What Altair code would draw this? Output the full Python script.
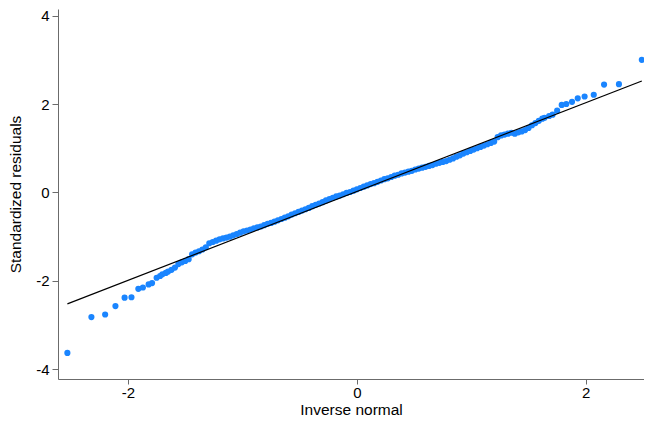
import altair as alt
import pandas as pd

# Inverse-normal quantiles (x) and sorted standardized residuals (y)
qx = [-2.53, -2.32, -2.20, -2.11, -2.03, -1.97, -1.91, -1.87, -1.82, -1.79, -1.75, -1.72, -1.70, -1.67, -1.65, -1.62, -1.59,
      -1.56, -1.53, -1.50, -1.47, -1.44, -1.41, -1.38, -1.35, -1.32, -1.29, -1.26, -1.23, -1.20, -1.17, -1.14, -1.11,
      -1.08, -1.05, -1.02, -0.99, -0.96, -0.93, -0.90, -0.87, -0.84, -0.81, -0.78, -0.75, -0.72, -0.69, -0.66, -0.63,
      -0.60, -0.57, -0.54, -0.51, -0.48, -0.45, -0.42, -0.39, -0.36, -0.33, -0.30, -0.27, -0.24, -0.21, -0.18, -0.15,
      -0.12, -0.09, -0.06, -0.03, 0.00, 0.03, 0.06, 0.09, 0.12, 0.15, 0.18, 0.21, 0.24, 0.27, 0.30, 0.33, 0.36, 0.39,
      0.42, 0.45, 0.48, 0.51, 0.54, 0.57, 0.60, 0.63, 0.66, 0.69, 0.72, 0.75, 0.78, 0.81, 0.84, 0.87, 0.90, 0.93, 0.96,
      0.99, 1.02, 1.05, 1.08, 1.11, 1.14, 1.17, 1.20, 1.23, 1.26, 1.29, 1.32, 1.35, 1.38, 1.41, 1.44, 1.47, 1.50, 1.53,
      1.56, 1.59, 1.62, 1.64, 1.68, 1.71, 1.75, 1.79, 1.83, 1.88, 1.93, 1.99, 2.07, 2.16, 2.29, 2.49]
resid = [-3.63, -2.82, -2.76, -2.57, -2.38, -2.37, -2.18, -2.15, -2.08, -2.05, -1.93, -1.89, -1.85, -1.82, -1.79, -1.75, -1.70,
         -1.62, -1.58, -1.55, -1.51, -1.40, -1.36, -1.33, -1.29, -1.24, -1.15, -1.12, -1.09, -1.06, -1.04, -1.02, -1.00,
         -0.97, -0.94, -0.91, -0.88, -0.86, -0.84, -0.81, -0.79, -0.77, -0.74, -0.71, -0.69, -0.66, -0.63, -0.60, -0.57,
         -0.54, -0.50, -0.47, -0.44, -0.41, -0.38, -0.35, -0.31, -0.28, -0.25, -0.22, -0.18, -0.15, -0.12, -0.09, -0.07,
         -0.04, -0.01, 0.01, 0.04, 0.07, 0.10, 0.13, 0.16, 0.19, 0.21, 0.24, 0.27, 0.30, 0.32, 0.35, 0.38, 0.40, 0.43,
         0.45, 0.47, 0.49, 0.52, 0.54, 0.56, 0.58, 0.60, 0.62, 0.65, 0.67, 0.69, 0.71, 0.74, 0.77, 0.81, 0.84, 0.88, 0.91,
         0.94, 0.97, 1.00, 1.03, 1.06, 1.09, 1.12, 1.15, 1.25, 1.29, 1.31, 1.33, 1.35, 1.33, 1.36, 1.38, 1.41, 1.46, 1.52,
         1.57, 1.62, 1.67, 1.69, 1.73, 1.76, 1.85, 1.98, 2.00, 2.05, 2.13, 2.17, 2.21, 2.44, 2.45, 3.00]

# Reference line endpoints
line_x = [-2.53, 2.49]
line_y = [-2.52, 2.52]

pts = pd.DataFrame({"x": qx, "y": resid})
ref = pd.DataFrame({"x": line_x, "y": line_y})

FONT = "Liberation Sans, Arial, Helvetica, sans-serif"

xscale = alt.Scale(domain=[-2.612, 2.509], nice=False, zero=False)
yscale = alt.Scale(domain=[-4.22, 4.15], nice=False, zero=False)

xaxis = alt.Axis(values=[-2, 0, 2], title="Inverse normal", grid=False,
                 labelExpr="datum.value + ''", labelFontSize=15, titleFontSize=15.5,
                 labelPadding=1, titlePadding=2, tickSize=5,
                 domainColor="#6b6b6b", tickColor="#6b6b6b", labelColor="#000", titleColor="#000",
                 titleFontWeight="normal", labelFont=FONT, titleFont=FONT)
yaxis = alt.Axis(values=[-4, -2, 0, 2, 4], title="Standardized residuals", grid=False,
                 labelExpr="datum.value + ''", labelFontSize=15, titleFontSize=15.5,
                 labelPadding=3, titlePadding=12, tickSize=6,
                 domainColor="#6b6b6b", tickColor="#6b6b6b", labelColor="#000", titleColor="#000",
                 titleFontWeight="normal", labelFont=FONT, titleFont=FONT)

points = alt.Chart(pts).mark_circle(size=38, color="#1A85FF", opacity=1, clip=True).encode(
    x=alt.X("x:Q", scale=xscale, axis=xaxis),
    y=alt.Y("y:Q", scale=yscale, axis=yaxis),
)

line = alt.Chart(ref).mark_line(color="#000000", strokeWidth=1.2, clip=True).encode(
    x=alt.X("x:Q", scale=xscale),
    y=alt.Y("y:Q", scale=yscale),
)

chart = alt.layer(points, line).properties(
    width=586, height=370,
    padding={"left": 0, "top": 0, "right": 0, "bottom": 0},
    background="white",
).configure_view(stroke=None)

chart.save("out.html", embed_options={"renderer": "svg", "actions": False})
